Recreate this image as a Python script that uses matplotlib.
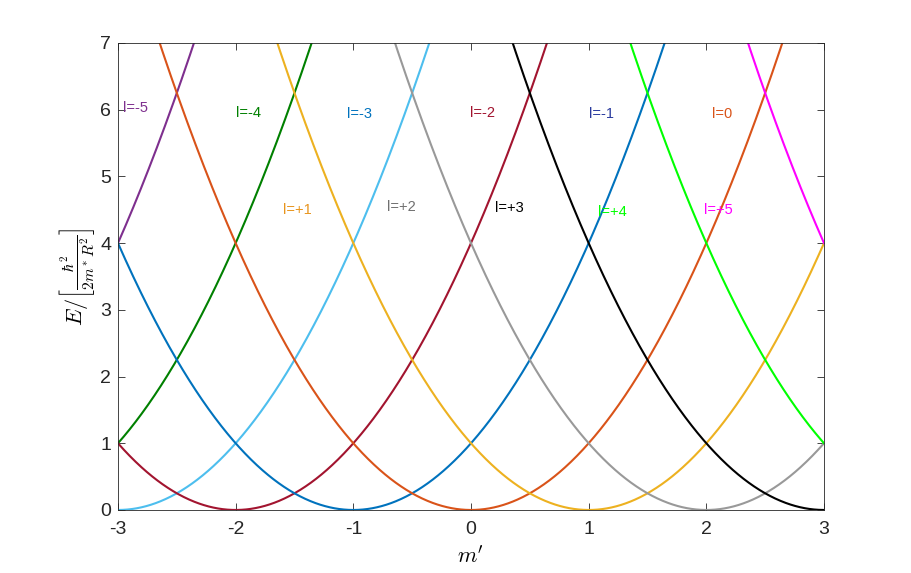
import numpy as np
import matplotlib
matplotlib.use("Agg")
import matplotlib.pyplot as plt

plt.rcParams['font.family'] = ['Liberation Sans', 'DejaVu Sans']
plt.rcParams['mathtext.fontset'] = 'cm'
plt.rcParams['axes.unicode_minus'] = False

# angular momentum values and colours of each parabola E = (m' - l)^2
l_values = [-5, -4, -3, -2, -1, 0, 1, 2, 3, 4, 5]
line_colors = ['#7E2F8E', '#008000', '#4DBEEE', '#A2142F', '#0072BD', '#D95319',
               '#EDB120', '#999999', '#000000', '#00FF00', '#FF00FF']
text_colors = ['#7E2F8E', '#008000', '#0072BD', '#A2142F', '#2A3B9E', '#D95319',
               '#E8951E', '#707070', '#000000', '#00FF00', '#FF00FF']
labels = ['l=-5', 'l=-4', 'l=-3', 'l=-2', 'l=-1', 'l=0',
          'l=+1', 'l=+2', 'l=+3', 'l=+4', 'l=+5']
# where the labels sit (m', E)
label_x = [-2.96, -2.0, -1.05, -0.01, 1.0, 2.05, -1.6, -0.71, 0.2, 1.08, 1.98]
label_y = [6.02, 5.95, 5.93, 5.95, 5.93, 5.93, 4.5, 4.54, 4.52, 4.46, 4.49]

m = np.linspace(-3, 3, 1201)

fig = plt.figure(figsize=(9.11, 5.73), dpi=100)
ax = fig.add_axes([0.1295, 0.110, 0.775, 0.815])

for l, c in zip(l_values, line_colors):
    ax.plot(m, (m - l) ** 2, color=c, lw=1.5)

for t, x, y, c in zip(labels, label_x, label_y, text_colors):
    ax.text(x, y, t, color=c, fontsize=10.5, ha='left', va='center')

ax.set_xlim(-3, 3)
ax.set_ylim(0, 7)
ax.set_xticks(range(-3, 4))
ax.set_yticks(range(0, 8))
ax.tick_params(direction='in', top=True, right=True, labelsize=14,
               colors='#262626', length=5, width=0.6)
ax.tick_params(axis='x', pad=8)
ax.tick_params(axis='y', pad=5)
for s in ax.spines.values():
    s.set_color('#262626')
    s.set_linewidth(0.6)

ax.set_xlabel(r"$m'$", fontsize=16, labelpad=6)
ax.set_ylabel(r"$E/\left[\frac{\hbar^2}{2m^*R^2}\right]$", fontsize=16, labelpad=2)

fig.savefig('out.png', dpi=100)
